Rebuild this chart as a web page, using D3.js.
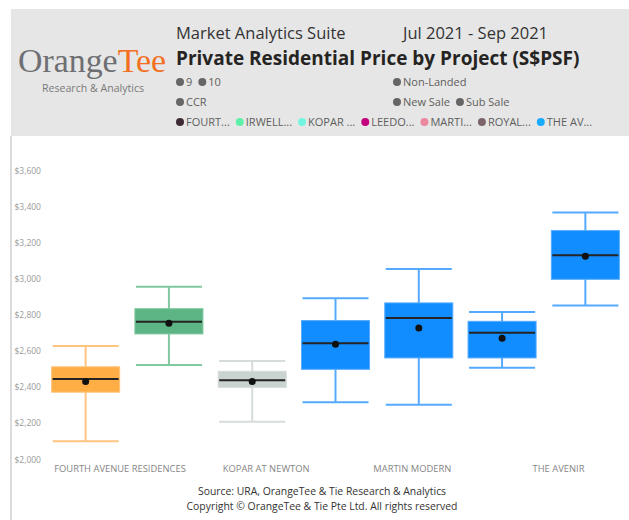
<!DOCTYPE html>
<html><head><meta charset="utf-8">
<script src="https://cdn.jsdelivr.net/npm/d3@7"></script>
<style>
html,body{margin:0;padding:0;background:#fff;}
svg{display:block;font-family:"Open Sans","Noto Sans",sans-serif;}
</style></head><body>
<svg id="chart" width="629" height="520"></svg>
<script>
// ---- data ----
const projects = ["FOURTH AVENUE RESIDENCES","IRWELL HILL RESIDENCES","KOPAR AT NEWTON","LEEDON GREEN","MARTIN MODERN","ROYALGREEN","THE AVENIR"];
const minVals    = [2100, 2523, 2208, 2316, 2303, 2508, 2852];
const q1Vals     = [2372, 2695, 2399, 2499, 2562, 2562, 2998];
const medianVals = [2445, 2763, 2438, 2643, 2784, 2702, 3131];
const meanVals   = [2432, 2754, 2432, 2638, 2728, 2671, 3126];
const q3Vals     = [2513, 2835, 2488, 2769, 2867, 2765, 3268];
const maxVals    = [2628, 2957, 2545, 2893, 3055, 2817, 3368];
const boxColors     = ["#FFAD45","#5DB585","#C9D3CF","#118DFF","#118DFF","#118DFF","#118DFF"];
const whiskerColors = ["#FFC57F","#80C8A0","#D5DCD9","#55AAFF","#55AAFF","#55AAFF","#55AAFF"];
const yTicks = [2000,2200,2400,2600,2800,3000,3200,3400,3600];
const xLabelProjects = ["FOURTH AVENUE RESIDENCES","KOPAR AT NEWTON","MARTIN MODERN","THE AVENIR"];
const filterRow1 = ["9","10"];
const filterRow1b = ["Non-Landed"];
const filterRow2 = ["CCR"];
const filterRow2b = ["New Sale","Sub Sale"];
const legendLabels = ["FOURT...","IRWELL...","KOPAR ...","LEEDO...","MARTI...","ROYAL...","THE AV..."];
const legendColors = ["#3D2B35","#5DF0A8","#72F5E0","#C4007C","#EC87A0","#7A6468","#1AAAFF"];
const headerTitle = "Market Analytics Suite";
const headerPeriod = "Jul 2021 - Sep 2021";
const chartTitle = "Private Residential Price by Project (S$PSF)";
const footerLines = ["Source: URA, OrangeTee & Tie Research & Analytics","Copyright \u00A9 OrangeTee & Tie Pte Ltd. All rights reserved"];

const svg = d3.select("#chart");

// ---- header panel ----
svg.append("rect").attr("x",11).attr("y",9).attr("width",618).attr("height",127).attr("fill","#E6E6E6");
svg.append("line").attr("x1",11).attr("x2",11).attr("y1",136).attr("y2",520).attr("stroke","#DCDCDC").attr("stroke-width",2);

// logo
const logo = svg.append("text").attr("x",18).attr("y",72)
  .attr("font-family","'Liberation Serif','Times New Roman',serif").attr("font-size",34)
  .attr("textLength",148).attr("lengthAdjust","spacingAndGlyphs");
logo.append("tspan").attr("fill","#6E6F72").text("Orange");
logo.append("tspan").attr("fill","#F37021").text("Tee");
svg.append("text").attr("x",42).attr("y",92).attr("font-size",10.6).attr("fill","#7A7A7A").text("Research & Analytics");

svg.append("text").attr("x",176).attr("y",39).attr("font-size",16.5).attr("fill","#333").text(headerTitle);
svg.append("text").attr("x",403).attr("y",39).attr("font-size",16.5).attr("fill","#333").text(headerPeriod);
svg.append("text").attr("x",176).attr("y",65).attr("font-size",19).attr("font-weight",700).attr("fill","#252423").text(chartTitle);

// filter/legend rows
function legendRow(items, colors, x0, cy){
  let x = x0;
  items.forEach((t,i)=>{
    svg.append("circle").attr("cx",x+4).attr("cy",cy).attr("r",4).attr("fill",colors ? colors[i] : "#666");
    const tx = svg.append("text").attr("x",x+10).attr("y",cy+4).attr("font-size",11).attr("fill","#605E5C").text(t);
    x = x + 10 + tx.node().getComputedTextLength() + 6;
  });
}
legendRow(filterRow1, null, 176, 82);
legendRow(filterRow1b, null, 393, 82);
legendRow(filterRow2, null, 176, 102);
legendRow(filterRow2b, null, 393, 102);
legendRow(legendLabels, legendColors, 176, 122);

// ---- scales ----
const x = d3.scaleBand().domain(projects).range([44,627]).paddingInner(0.183).paddingOuter(0.0915);
const y = d3.scaleLinear().domain([2000,3600]).range([459.3,170.7]);
const xl = d3.scalePoint().domain(xLabelProjects).range([120,558.5]);

// y axis
const yAxis = svg.append("g").attr("transform","translate(41,0)")
  .call(d3.axisLeft(y).tickValues(yTicks).tickFormat(d3.format("$,")).tickSize(0).tickPadding(0));
yAxis.select(".domain").remove();
yAxis.selectAll("text").attr("font-size",8.5).attr("fill","#9A9A9A").attr("font-family","'Open Sans',sans-serif");

// x labels
svg.append("g").selectAll("text").data(xLabelProjects).join("text")
  .attr("x",d=>xl(d)).attr("y",472).attr("text-anchor","middle")
  .attr("font-size",9.4).attr("fill","#858585").text(d=>d);

// ---- boxes ----
const bw = x.bandwidth();
const g = svg.append("g");
projects.forEach((p,i)=>{
  const x0 = x(p), cx = x0 + bw/2;
  const wc = whiskerColors[i];
  g.append("line").attr("x1",cx).attr("x2",cx).attr("y1",y(minVals[i])).attr("y2",y(maxVals[i])).attr("stroke",wc).attr("stroke-width",2);
  g.append("line").attr("x1",x0+1).attr("x2",x0+bw-1).attr("y1",y(minVals[i])).attr("y2",y(minVals[i])).attr("stroke",wc).attr("stroke-width",2);
  g.append("line").attr("x1",x0+1).attr("x2",x0+bw-1).attr("y1",y(maxVals[i])).attr("y2",y(maxVals[i])).attr("stroke",wc).attr("stroke-width",2);
  g.append("rect").attr("x",x0).attr("width",bw).attr("y",y(q3Vals[i])).attr("height",y(q1Vals[i])-y(q3Vals[i]))
    .attr("fill",boxColors[i]).attr("stroke",wc).attr("stroke-width",1);
  g.append("line").attr("x1",x0+1).attr("x2",x0+bw-1).attr("y1",y(medianVals[i])).attr("y2",y(medianVals[i])).attr("stroke","#252423").attr("stroke-width",2);
  g.append("circle").attr("cx",cx).attr("cy",y(meanVals[i])).attr("r",3.5).attr("fill","#111");
});

// footer
svg.append("g").selectAll("text").data(footerLines).join("text")
  .attr("x",322).attr("y",(d,i)=>495+i*15).attr("text-anchor","middle")
  .attr("font-size",10.4).attr("fill","#333").text(d=>d);
</script>
</body></html>
